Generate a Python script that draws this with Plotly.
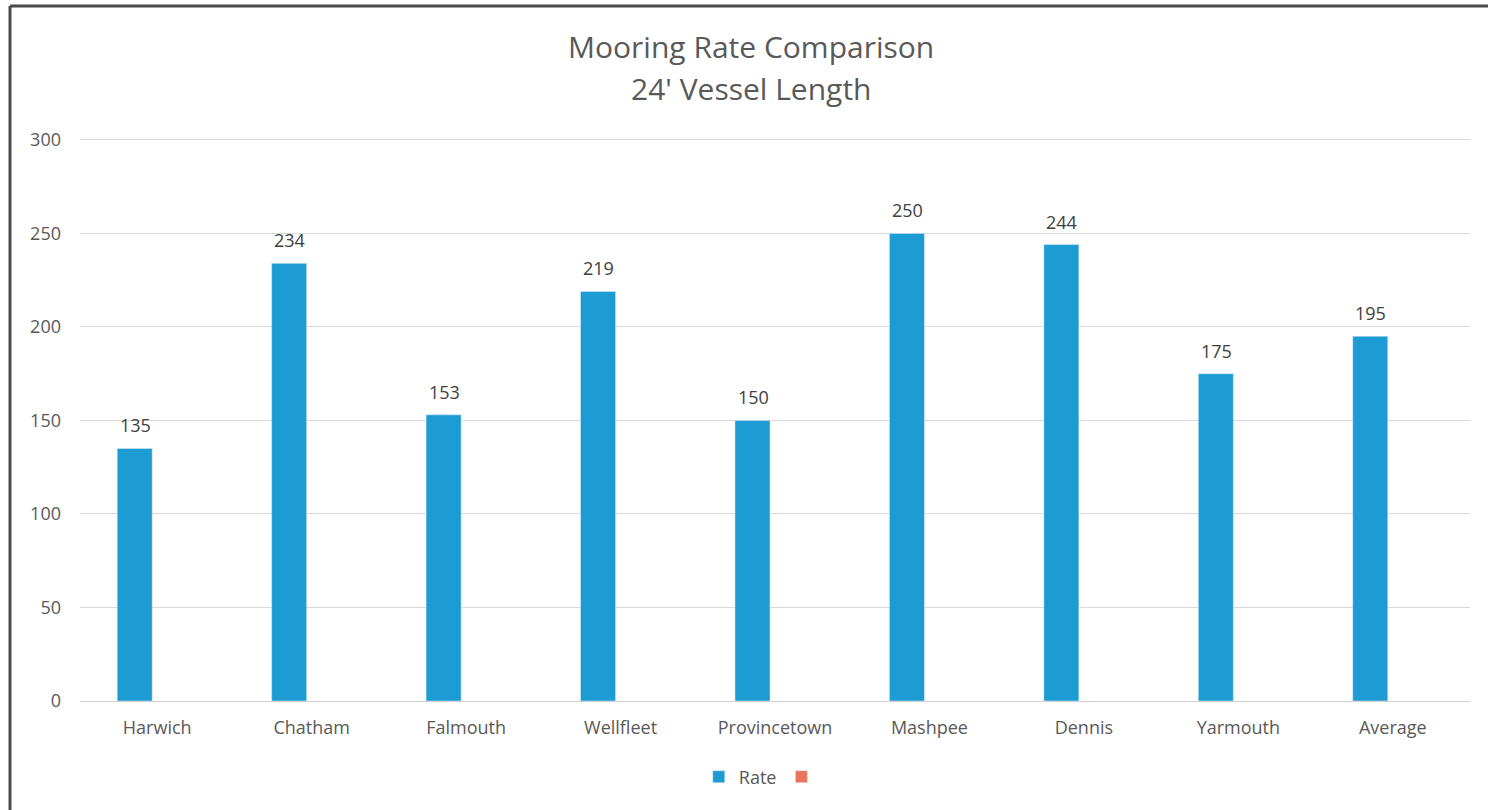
import plotly.graph_objects as go

categories = ["Harwich", "Chatham", "Falmouth", "Wellfleet", "Provincetown",
              "Mashpee", "Dennis", "Yarmouth", "Average"]
rate = [135, 234, 153, 219, 150, 250, 244, 175, 195]
second = [None] * len(categories)
y_ticks = [0, 50, 100, 150, 200, 250, 300]

W, H = 1488, 810
L, R, T, B = 80, 18, 138, 109
pw, ph = W - L - R, H - T - B

def px_x(x):
    return (x - L) / pw

def px_y(y):
    return (H - B - y) / ph

FONT = "Open Sans, Noto Sans, sans-serif"
TXT = "#595959"

fig = go.Figure()
fig.add_trace(go.Bar(
    x=categories, y=rate, name="Rate", marker_color="#1c9cd3",
))
fig.add_trace(go.Bar(
    x=categories, y=second, name=" ", marker_color="#e9765b", showlegend=True,
))

annotations = [
    dict(text="Mooring Rate Comparison", x=px_x(751), xref="paper", y=px_y(47),
         yref="paper", xanchor="center", yanchor="middle", showarrow=False,
         font=dict(size=30, color=TXT, family=FONT)),
    dict(text="24' Vessel Length", x=px_x(751), xref="paper", y=px_y(88),
         yref="paper", xanchor="center", yanchor="middle", showarrow=False,
         font=dict(size=30, color=TXT, family=FONT)),
]
for c, v in zip(categories, rate):
    annotations.append(dict(
        text=str(v), x=c, y=v, xref="x", yref="y", xshift=-22, yshift=23,
        xanchor="center", yanchor="middle", showarrow=False,
        font=dict(size=18, color="#404040", family=FONT)))

fig.update_layout(
    width=W, height=H,
    margin=dict(l=L, r=R, t=T, b=B, autoexpand=False),
    paper_bgcolor="white", plot_bgcolor="white",
    barmode="group", bargap=0.417, bargroupgap=0.222,
    font=dict(family=FONT, color=TXT, size=18),
    showlegend=True,
    legend=dict(orientation="h", x=0.493, xanchor="center", y=px_y(777), yanchor="middle",
                font=dict(size=18, color=TXT), itemwidth=30, traceorder="normal"),
    xaxis=dict(showgrid=False, showline=False, ticks="", ticklabelstandoff=14,
               tickfont=dict(size=18, color=TXT)),
    yaxis=dict(range=[0, 301], tickvals=y_ticks, showgrid=True, gridcolor="#d9d9d9",
               gridwidth=1, zeroline=True, zerolinecolor="#d0d0d0", zerolinewidth=1,
               showline=False, ticks="", ticklabelstandoff=18,
               tickfont=dict(size=18, color=TXT)),
    annotations=annotations,
    shapes=[
        dict(type="line", xref="paper", yref="paper", x0=px_x(10), x1=px_x(1500),
             y0=px_y(6), y1=px_y(6), line=dict(color="#4a4a4a", width=3)),
        dict(type="line", xref="paper", yref="paper", x0=px_x(10), x1=px_x(10),
             y0=px_y(6), y1=px_y(820), line=dict(color="#4a4a4a", width=3)),
    ],
)

fig.write_html("out.html")
